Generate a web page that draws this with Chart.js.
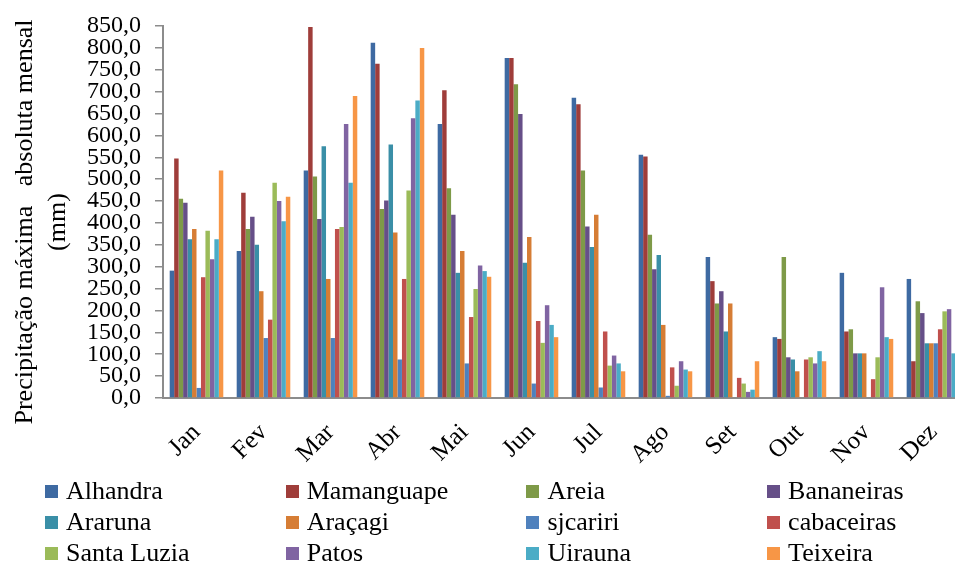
<!DOCTYPE html>
<html lang="pt">
<head>
<meta charset="utf-8">
<title>Precipitação máxima absoluta mensal</title>
<script src="https://cdn.jsdelivr.net/npm/chart.js@4"></script>
<style>
  html, body { margin: 0; padding: 0; background: #fff; overflow: hidden; }
  #wrap { position: relative; width: 975px; height: 569px; }
  #chart { position: absolute; left: 0; top: 0; }
  #legend { position: absolute; left: 0; top: 0; width: 955px; height: 569px; pointer-events: none; }
  .item { position: absolute; height: 30px; display: flex; align-items: center;
          font-family: "Liberation Serif", "Times New Roman", serif; font-size: 26px; color: #000; white-space: nowrap; }
  .box { width: 13px; height: 13px; margin-right: 8px; flex: none; }
</style>
</head>
<body>
<div id="wrap">
  <canvas id="chart" width="975" height="569"></canvas>
  <div id="legend"></div>
</div>
<script>
// Months
const months = ['Jan', 'Fev', 'Mar', 'Abr', 'Mai', 'Jun', 'Jul', 'Ago', 'Set', 'Out', 'Nov', 'Dez'];

// Maximum absolute monthly precipitation (mm) per station
const alhandra    = [291, 336, 520, 812, 626, 777, 686, 556, 322, 139, 286, 272];
const mamanguape  = [547, 469, 848, 764, 703, 777, 671, 552, 267, 135, 152, 84];
const areia       = [455, 386, 506, 432, 479, 717, 520, 373, 216, 322, 157, 221];
const bananeiras  = [446, 414, 409, 451, 419, 649, 392, 294, 244, 93, 102, 194];
const araruna     = [363, 350, 575, 579, 286, 309, 345, 327, 152, 88, 102, 125];
const aracagi     = [386, 244, 272, 378, 336, 368, 419, 167, 216, 61, 102, 125];
const sjcariri    = [23, 137, 137, 88, 79, 33, 24, 5, 0, 0, 0, 125];
const cabaceiras  = [276, 179, 386, 272, 185, 176, 152, 70, 46, 88, 43, 157];
const santaLuzia  = [382, 492, 391, 474, 249, 126, 74, 28, 33, 93, 93, 198];
const patos       = [317, 450, 626, 639, 303, 212, 97, 84, 14, 79, 253, 203];
const uirauna     = [363, 404, 492, 680, 290, 167, 79, 65, 19, 107, 139, 102];
const teixeira    = [520, 460, 690, 800, 277, 139, 61, 61, 84, 84, 135, 345];

// Y axis tick range
const yMin = 0, yMax = 850, yStep = 50;

const stations = [
  ['Alhandra', alhandra, '#3E6AA2'],
  ['Mamanguape', mamanguape, '#9F3D3A'],
  ['Areia', areia, '#7E9A48'],
  ['Bananeiras', bananeiras, '#664F88'],
  ['Araruna', araruna, '#3A8FA7'],
  ['Araçagi', aracagi, '#D67D35'],
  ['sjcariri', sjcariri, '#4F81BD'],
  ['cabaceiras', cabaceiras, '#C0504D'],
  ['Santa Luzia', santaLuzia, '#9BBB59'],
  ['Patos', patos, '#8064A2'],
  ['Uirauna', uirauna, '#4BACC6'],
  ['Teixeira', teixeira, '#F79646']
];

const serif = '"Liberation Serif", "Times New Roman", serif';
const axisGray = '#8c8c8c';

// Rotated two-line title beside the value axis
const yTitlePlugin = {
  id: 'yTitle',
  afterDraw(chart) {
    const ctx = chart.ctx;
    ctx.save();
    ctx.fillStyle = '#000';
    ctx.font = '26px ' + serif;
    ctx.textAlign = 'center';
    ctx.textBaseline = 'middle';
    const lines = [['Precipitação máxima   absoluta mensal', 25], ['(mm)', 58]];
    lines.forEach(([txt, x]) => {
      ctx.save();
      ctx.translate(x, 222);
      ctx.rotate(-Math.PI / 2);
      ctx.fillText(txt, 0, 0);
      ctx.restore();
    });
    ctx.restore();
  }
};

const chart = new Chart(document.getElementById('chart'), {
  type: 'bar',
  data: {
    labels: months,
    datasets: stations.map(([name, values, color]) => ({
      label: name,
      data: values,
      backgroundColor: color,
      borderWidth: 0,
      categoryPercentage: 0.8,
      barPercentage: 1.0
    }))
  },
  options: {
    responsive: false,
    animation: false,
    layout: { padding: { left: 0, top: 19, right: 8, bottom: 101 } },
    plugins: {
      legend: { display: false },
      tooltip: { enabled: false }
    },
    scales: {
      x: {
        grid: { display: true, drawOnChartArea: false, drawTicks: false },
        border: { display: true, color: axisGray, width: 2 },
        ticks: {
          color: '#000',
          font: { family: serif, size: 25 },
          minRotation: 45,
          maxRotation: 45,
          padding: 20,
          autoSkip: false
        },
        afterFit(scale) { scale.height = 70; }
      },
      y: {
        min: yMin,
        max: yMax,
        grid: { display: true, drawOnChartArea: false, drawTicks: true, tickLength: 8, color: axisGray, lineWidth: 1.5 },
        border: { display: true, color: axisGray, width: 2 },
        ticks: {
          stepSize: yStep,
          autoSkip: false,
          color: '#000',
          padding: 14,
          font: { family: serif, size: 24, lineHeight: 1 },
          callback: (v) => v.toFixed(1).replace('.', ',')
        },
        afterFit(scale) { scale.width = 163; }
      }
    }
  },
  plugins: [yTitlePlugin]
});

// Four-column legend under the plot
const legend = document.getElementById('legend');
chart.data.datasets.forEach((ds, i) => {
  const col = i % 4, row = Math.floor(i / 4);
  const item = document.createElement('div');
  item.className = 'item';
  item.style.left = (45 + col * 240.7) + 'px';
  item.style.top = (476 + row * 31) + 'px';
  const box = document.createElement('span');
  box.className = 'box';
  box.style.background = ds.backgroundColor;
  const txt = document.createElement('span');
  txt.textContent = ds.label;
  item.appendChild(box);
  item.appendChild(txt);
  legend.appendChild(item);
});
</script>
</body>
</html>
